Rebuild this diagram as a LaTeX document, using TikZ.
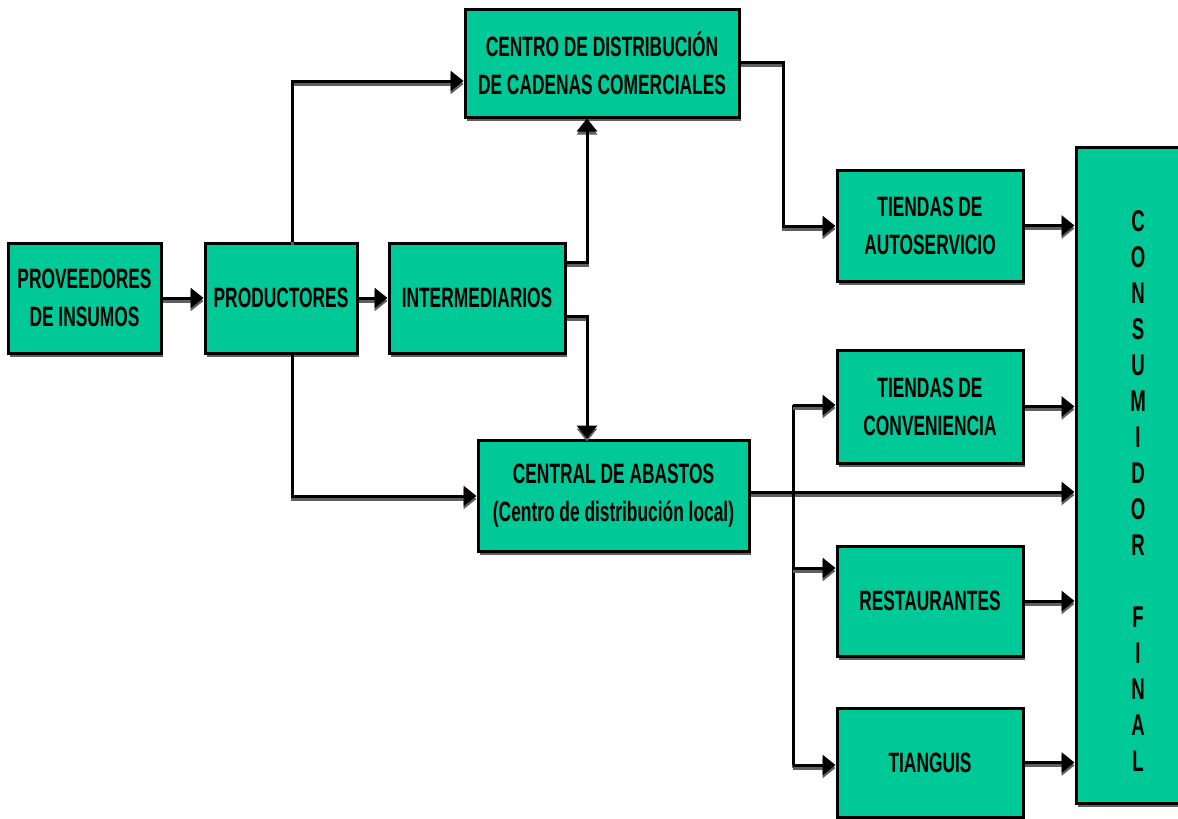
\documentclass[tikz,border=0pt]{standalone}
\usepackage{fontspec}
\setmainfont[FakeStretch=0.62]{Liberation Sans}
\usetikzlibrary{arrows.meta,shadows}
\definecolor{boxgreen}{RGB}{0,201,152}
\definecolor{shadowgray}{RGB}{95,95,95}
\begin{document}
\begin{tikzpicture}[x=1pt,y=-1pt,
  box/.style={draw=black, line width=3pt, fill=boxgreen, inner sep=0pt, align=center,
    font=\bfseries\fontsize{28}{38}\selectfont,
    drop shadow={shadow xshift=1.5pt, shadow yshift=-4pt, fill=shadowgray, opacity=1}},
  conn/.style={line width=3pt, line join=miter,
    preaction={draw=shadowgray, line width=3pt, transform canvas={yshift=-3pt}}},
  arr/.style={conn, -{Triangle[length=13pt,width=20pt]}},
]
\useasboundingbox (0,0) rectangle (1178,819);

% boxes
\node[box, minimum width=153pt, minimum height=110pt] (prov) at (84.5,298) {PROVEEDORES\\DE INSUMOS};
\node[box, minimum width=152pt, minimum height=110pt] (prod) at (281,298) {PRODUCTORES};
\node[box, minimum width=176pt, minimum height=110pt] (inter) at (477,298) {INTERMEDIARIOS};
\node[box, minimum width=274pt, minimum height=108pt] (centro) at (602,63) {CENTRO DE DISTRIBUCIÓN\\DE CADENAS COMERCIALES};
\node[box, minimum width=271pt, minimum height=111pt] (central) at (613.5,495.5) {CENTRAL DE ABASTOS\\(Centro de distribución local)};
\node[box, minimum width=186pt, minimum height=111pt] (auto) at (930,225.5) {TIENDAS DE\\AUTOSERVICIO};
\node[box, minimum width=186pt, minimum height=113pt] (conven) at (930,406.5) {TIENDAS DE\\CONVENIENCIA};
\node[box, minimum width=186pt, minimum height=110pt] (rest) at (930,601) {RESTAURANTES};
\node[box, minimum width=186pt, minimum height=109pt] (tiang) at (930,762.5) {TIANGUIS};
\node[box, minimum width=124pt, minimum height=656pt] (cons) at (1138,475) {};
\node[align=center, inner sep=0pt, font=\bfseries\fontsize{30}{36}\selectfont] (constext) at (1138,491)
  {C\\O\\N\\S\\U\\M\\I\\D\\O\\R\\\mbox{}\\F\\I\\N\\A\\L};

% coordinates for bends
\coordinate (pTop) at (292,81);
\coordinate (pBot) at (292,496);
\coordinate (iUp) at (587,262);
\coordinate (iDn) at (587,316);
\coordinate (cA) at (783,62);
\coordinate (cB) at (783,226);
\coordinate (cL) at (749,492);
\coordinate (b1) at (793,405);
\coordinate (b2) at (793,568);
\coordinate (b3) at (793,765);

% connectors
\draw[arr] (prov) -- (prod);
\draw[arr] (prod) -- (inter);
\draw[arr] (prod.north -| pTop) -- (pTop) -- (centro.west |- pTop);
\draw[arr] (prod.south -| pBot) -- (pBot) -- (central.west |- pBot);
\draw[arr] (inter.east |- iUp) -- (iUp) -- (centro.south -| iUp);
\draw[arr] (inter.east |- iDn) -- (iDn) -- (central.north -| iDn);
\draw[arr] (centro.east |- cA) -- (cA) -- (cB) -- (auto.west |- cB);
\draw[arr] (central.east |- cL) -- (cons.west |- cL);
\draw[conn] (b1) -- (b3);
\draw[arr] (b1) -- (conven.west |- b1);
\draw[arr] (b2) -- (rest.west |- b2);
\draw[arr] (b3) -- (tiang.west |- b3);
\draw[arr] (auto.east) -- (auto.east -| cons.west);
\draw[arr] (conven.east) -- (conven.east -| cons.west);
\draw[arr] (rest.east) -- (rest.east -| cons.west);
\draw[arr] (tiang.east) -- (tiang.east -| cons.west);
\end{tikzpicture}
\end{document}
